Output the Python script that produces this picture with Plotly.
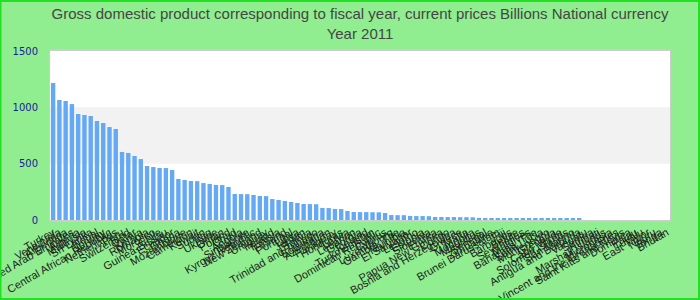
import plotly.graph_objects as go

categories = [
    "Turkey", "Venezuela", "Argentina", "United Arab Emirates", "Algeria",
    "Malaysia", "Sri Lanka", "Nepal", "Norway", "Central African Republic",
    "Netherlands", "Peru", "Switzerland", "Qatar", "Kenya",
    "Romania", "Morocco", "Chile", "Guinea-Bissau", "Ecuador",
    "Ghana", "Mozambique", "Cameroon", "Kuwait", "Sudan",
    "Iraq", "Ukraine", "Oman", "Poland", "Chad",
    "Angola", "Singapore", "Kyrgyz Republic", "New Zealand", "Uruguay",
    "Ireland", "Tunisia", "Finland", "Portugal", "Libya",
    "Jordan", "Bolivia", "Trinidad and Tobago", "Botswana", "Azerbaijan",
    "Paraguay", "Honduras", "Latvia", "Lebanon", "Georgia",
    "Iceland", "Turkmenistan", "Dominican Republic", "Cyprus", "Luxembourg",
    "Gambia, The", "Namibia", "El Salvador", "Lesotho", "Estonia",
    "Slovenia", "Eritrea", "Papua New Guinea", "Congo", "Bosnia and Herzegovina",
    "Greece", "Malta", "Mongolia", "Mauritius", "Senegal",
    "Zimbabwe", "Brunei Darussalam", "Fiji", "Barbados", "Belize",
    "Seychelles", "Maldives", "Bahamas, The", "Saint Lucia", "Montenegro",
    "Grenada", "Cabo Verde", "Solomon Islands", "San Marino", "Antigua and Barbuda",
    "Vanuatu", "Samoa", "Kiribati", "Marshall Islands", "Micronesia",
    "Saint Vincent and the Grenadines", "Saint Kitts and Nevis", "Dominica", "Palau", "Tuvalu",
    "East Timor", "Nauru", "Tonga", "Bhutan",
]

values = [
    1216, 1065, 1056, 1029, 941,
    932, 923, 879, 861, 825,
    808, 604, 595, 568, 541,
    479, 470, 462, 461, 444,
    364, 355, 346, 345, 328,
    320, 311, 310, 293, 231,
    230, 229, 222, 213, 212,
    186, 178, 169, 160, 151,
    142, 141, 140, 107, 106,
    98, 97, 80, 71, 70,
    70, 69, 68, 62, 44,
    43, 43, 36, 35, 35,
    34, 27, 27, 26, 26,
    25, 25, 24, 19, 18,
    17, 17, 16, 11, 11,
    10, 10, 10, 10, 10,
    9, 9, 9, 9, 9,
    0, 0, 0, 0, 0,
    0, 0, 0, 0, 0,
    0, 0, 0, 0,
]

title_text = ("Gross domestic product corresponding to fiscal year, current prices Billions National currency"
              "<br>Year 2011")
y_ticks = [0, 500, 1000, 1500]

fig = go.Figure()
fig.add_trace(go.Bar(
    x=categories, y=values,
    marker=dict(color="#64a9f4", line=dict(width=0)),
    hoverinfo="x+y",
))

# alternating background bands
fig.add_shape(type="rect", xref="paper", yref="y", x0=0, x1=1, y0=500, y1=1000,
              fillcolor="#f2f2f2", line=dict(width=0), layer="below")

# outer border of the page
L, R, T, B = 50, 30, 51, 80
W, H = 700, 300
pw, ph = W - L - R, H - T - B
fig.add_shape(type="rect", xref="paper", yref="paper",
              x0=-L / pw + 0.5 / pw, x1=1 + (R - 1) / pw,
              y0=-B / ph + 1 / ph, y1=1 + (T - 1) / ph,
              line=dict(color="#22e022", width=2), fillcolor="rgba(0,0,0,0)", layer="above")

fig.update_layout(
    width=W, height=H,
    margin=dict(l=L, r=R, t=T, b=B),
    paper_bgcolor="#90ee90",
    plot_bgcolor="#ffffff",
    showlegend=False,
    bargap=0.3,
    title=dict(text=title_text, x=0.5, xanchor="center", xref="paper",
               y=1 - 19 / H, yanchor="top", yref="container",
               font=dict(family="Liberation Sans, Arial", size=15, color="#454545")),
)
fig.update_xaxes(
    type="category", tickangle=-30, showgrid=False,
    tickmode="linear", tick0=0, dtick=1,
    tickfont=dict(family="Liberation Sans, Arial", size=11, color="#1e1e1e"),
    showline=True, linecolor="#cccccc", linewidth=2, mirror=True,
    ticks="", automargin=False,
)
fig.update_yaxes(
    range=[0, 1500], tickvals=y_ticks, showgrid=False, zeroline=False,
    tickfont=dict(family="DejaVu Sans, Verdana", size=10, color="#1a1a99"),
    showline=True, linecolor="#cccccc", linewidth=1, mirror=True,
    ticklabelstandoff=9, automargin=False,
)

fig.write_html("out.html")
